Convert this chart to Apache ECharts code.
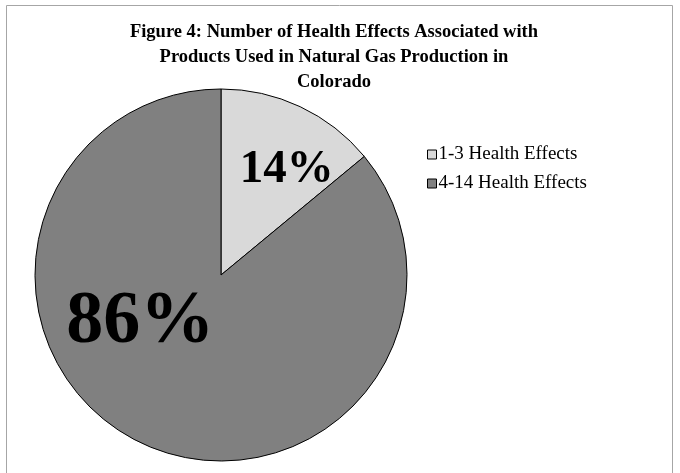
<!DOCTYPE html>
<html>
<head>
<meta charset="utf-8">
<script src="https://cdn.jsdelivr.net/npm/echarts@6/dist/echarts.min.js"></script>
<style>html,body{margin:0;padding:0;background:#fff;}#c{width:680px;height:473px;}</style>
</head>
<body>
<div id="c"></div>
<script>
var titleText = 'Figure 4: Number of Health Effects Associated with\nProducts Used in Natural Gas Production in\nColorado';
var categories = ['1-3 Health Effects', '4-14 Health Effects'];
var values = [14, 86];
var sliceColors = ['#d9d9d9', '#808080'];
var labelSizes = [47, 74];
var labelOffsets = [[25, -18], [-40, -39]];

var chart = echarts.init(document.getElementById('c'), null, {renderer: 'canvas'});
var data = categories.map(function (c, i) {
  return {
    name: c,
    value: values[i],
    itemStyle: {color: sliceColors[i]},
    label: {fontSize: labelSizes[i], offset: labelOffsets[i]}
  };
});
chart.setOption({
  animation: false,
  backgroundColor: '#fff',
  title: {
    text: titleText,
    left: 329,
    textAlign: 'center',
    top: 15,
    textStyle: {fontFamily: 'Liberation Serif', fontWeight: 'bold', fontSize: 18.5, lineHeight: 25, color: '#000'}
  },
  legend: {
    orient: 'vertical',
    left: 422,
    top: 140,
    itemWidth: 9,
    itemHeight: 9,
    itemGap: 10,
    icon: 'rect',
    itemStyle: {borderColor: '#000', borderWidth: 1},
    textStyle: {fontFamily: 'Liberation Serif', fontSize: 19, color: '#000', padding: [0, 0, 0, -3]},
    data: categories
  },
  graphic: [{
    type: 'rect',
    silent: true,
    shape: {x: 6.5, y: 5.5, width: 666, height: 480},
    style: {fill: 'none', stroke: '#a6a6a6', lineWidth: 1}
  }],
  series: [{
    type: 'pie',
    center: [221, 275],
    radius: 186,
    startAngle: 90,
    clockwise: true,
    label: {
      show: true,
      position: 'inside',
      formatter: '{d}%',
      fontFamily: 'Liberation Serif',
      fontWeight: 'bold',
      color: '#000'
    },
    labelLine: {show: false},
    itemStyle: {borderColor: '#000', borderWidth: 1},
    emphasis: {disabled: true},
    data: data
  }]
});
</script>
</body>
</html>
